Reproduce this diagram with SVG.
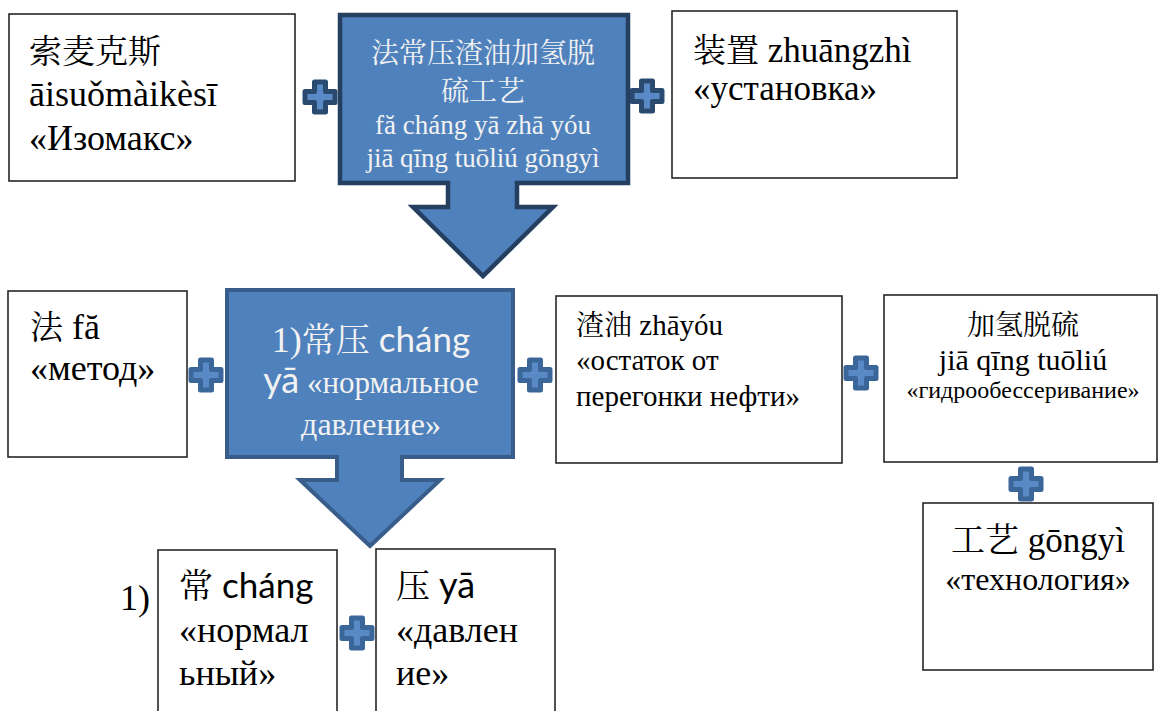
<svg xmlns="http://www.w3.org/2000/svg" width="1159" height="711" viewBox="0 0 1159 711">
<style>
.box{fill:#fff;stroke:#262626;stroke-width:1.6}
.t{font-family:"Liberation Serif","Noto Serif CJK SC",serif;fill:#000}
.w{font-family:"Liberation Serif","Noto Serif CJK SC",serif;fill:#f2f2f2}
.cjk{font-family:"Noto Serif CJK SC","Noto Sans CJK SC",serif}
.py{font-family:Lato,"Liberation Sans",sans-serif}
.arrow1{fill:#4f81bd;stroke:#243f60;stroke-width:4.5;stroke-linejoin:miter}
.arrow2{fill:#4f81bd;stroke:#385d8a;stroke-width:4;stroke-linejoin:miter}
.plus{fill:#5a8ac6;stroke:#3a6699;stroke-width:5;stroke-linejoin:round}
</style>
<defs>
<path id="plusShape" d="M-5.5,-15 H5.5 V-5.5 H15 V5.5 H5.5 V15 H-5.5 V5.5 H-15 V-5.5 H-5.5 Z"/>
</defs>

<g id="connectors">
<use href="#plusShape" class="plus" x="320" y="97" style="stroke:#2b4a70"/>
<use href="#plusShape" class="plus" x="647" y="96" style="stroke:#2b4a70"/>
<use href="#plusShape" class="plus" x="206" y="375"/>
<use href="#plusShape" class="plus" x="535" y="375"/>
<use href="#plusShape" class="plus" x="861" y="373"/>
<use href="#plusShape" class="plus" x="1026" y="484"/>
<use href="#plusShape" class="plus" x="357" y="633"/>
</g>

<g id="node-isomax">
<rect class="box" x="9" y="14" width="286" height="167"/>
<text class="t" x="29" y="63" font-size="36"><tspan class="cjk" font-size="33">索麦克斯</tspan></text>
<text class="t" x="29" y="106" font-size="36">āisuǒmàikèsī</text>
<text class="t" x="29" y="150" font-size="36">«Изомакс»</text>
</g>

<g id="node-process">
<path class="arrow1" d="M340,15 H628 V183 H517 V207 H553 L483,276 L413,207 H448 V183 H340 Z"/>
<text class="w" x="483" y="63" font-size="28" text-anchor="middle"><tspan class="cjk">法常压渣油加氢脱</tspan></text>
<text class="w" x="483" y="101" font-size="28" text-anchor="middle"><tspan class="cjk">硫工艺</tspan></text>
<text class="w" x="483" y="134" font-size="27" text-anchor="middle">fă cháng yā zhā yóu</text>
<text class="w" x="483" y="167" font-size="27" text-anchor="middle">jiā qīng tuōliú gōngyì</text>
</g>

<g id="node-unit">
<rect class="box" x="672" y="11" width="285" height="167"/>
<text class="t" x="693" y="62" font-size="35"><tspan class="cjk" font-size="33">装置</tspan> zhuāngzhì</text>
<text class="t" x="693" y="100" font-size="35">«установка»</text>
</g>

<g id="node-method">
<rect class="box" x="8" y="291" width="179" height="166"/>
<text class="t" x="30" y="339" font-size="36"><tspan class="cjk" font-size="33">法</tspan> fă</text>
<text class="t" x="30" y="380" font-size="36">«метод»</text>
</g>

<g id="node-pressure">
<path class="arrow2" d="M227,290 H513 V457 H402 V480 H440 L370,546 L300,480 H337 V457 H227 Z"/>
<text class="w" x="371" y="352" font-size="36" text-anchor="middle">1)<tspan class="cjk" font-size="34">常压</tspan> <tspan class="py" font-size="35">cháng</tspan></text>
<text class="w" x="371" y="393" font-size="31" text-anchor="middle"><tspan class="py" font-size="36">yā</tspan> «нормальное</text>
<text class="w" x="371" y="435" font-size="32" text-anchor="middle">давление»</text>
</g>

<g id="node-residue">
<rect class="box" x="556" y="296" width="286" height="167"/>
<text class="t" x="576" y="335" font-size="29"><tspan class="cjk" font-size="28">渣油</tspan> zhāyóu</text>
<text class="t" x="576" y="370" font-size="29">«остаток от</text>
<text class="t" x="576" y="406" font-size="29">перегонки нефти»</text>
</g>

<g id="node-hydro">
<rect class="box" x="884" y="295" width="273" height="167"/>
<text class="t" x="1023" y="335" font-size="28" text-anchor="middle"><tspan class="cjk">加氢脱硫</tspan></text>
<text class="t" x="1023" y="370" font-size="30" text-anchor="middle">jiā qīng tuōliú</text>
<text class="t" x="1023" y="398" font-size="24" text-anchor="middle">«гидрообессеривание»</text>
</g>

<g id="node-tech">
<rect class="box" x="923" y="503" width="230" height="167"/>
<text class="t" x="1038" y="552" font-size="35" text-anchor="middle"><tspan class="cjk" font-size="34">工艺</tspan> gōngyì</text>
<text class="t" x="1038" y="590" font-size="32" text-anchor="middle">«технология»</text>
</g>

<g id="label-1">
<text class="t" x="120" y="610" font-size="36">1)</text>
</g>

<g id="node-normal">
<rect class="box" x="158" y="550" width="179" height="175"/>
<text class="t" x="179" y="598" font-size="36"><tspan class="cjk" font-size="34">常</tspan> <tspan class="py" font-size="35">cháng</tspan></text>
<text class="t" x="179" y="642" font-size="36">«нормал</text>
<text class="t" x="179" y="685" font-size="36">ьный»</text>
</g>

<g id="node-press">
<rect class="box" x="376" y="549" width="179" height="176"/>
<text class="t" x="396" y="598" font-size="36"><tspan class="cjk" font-size="34">压</tspan> <tspan class="py" font-size="36">yā</tspan></text>
<text class="t" x="396" y="642" font-size="36">«давлен</text>
<text class="t" x="396" y="685" font-size="36">ие»</text>
</g>
</svg>
